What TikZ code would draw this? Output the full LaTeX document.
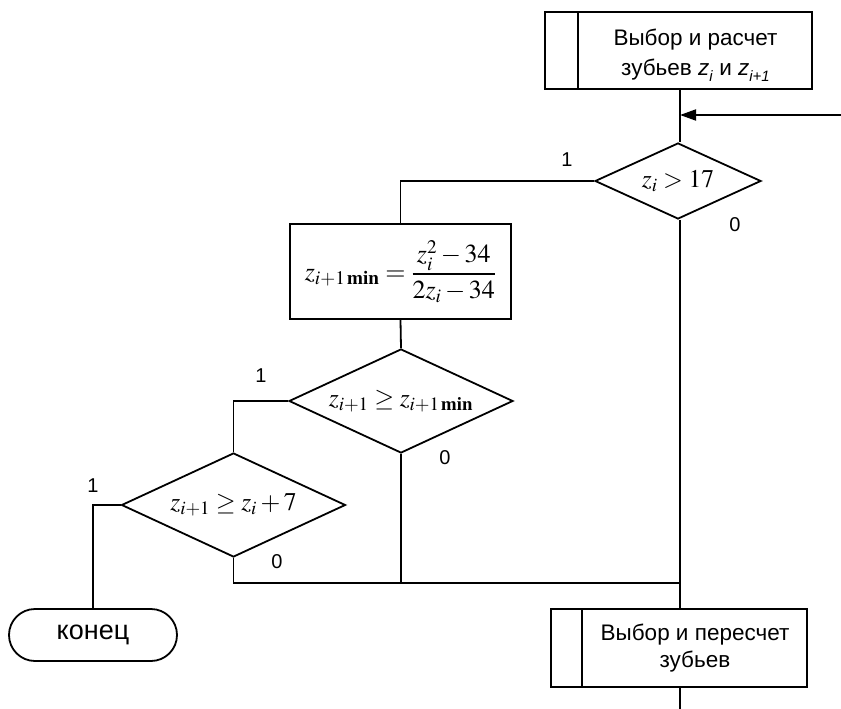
\documentclass[tikz,border=0pt]{standalone}
\usepackage{mathptmx}
\usepackage[no-math]{fontspec}
\setmainfont{Liberation Sans}
\usetikzlibrary{shapes.geometric,arrows.meta}

\newcommand{\zsub}[1]{\textit{z}\raisebox{-6pt}{\fontsize{15}{16}\selectfont\textit{#1}}}

\begin{document}
\begin{tikzpicture}[x=1pt,y=-1pt,line width=1.8pt,
  every node/.style={font=\fontsize{22.5}{27}\selectfont},
  box/.style={draw,rectangle,inner sep=0pt},
  cond/.style={draw,diamond,inner sep=0pt,aspect=2.15,
    minimum width=224pt,minimum height=104pt,font=\fontsize{25.5}{28}\selectfont},
  lbl/.style={inner sep=0pt,font=\fontsize{20}{22}\selectfont},
  txt/.style={inner sep=0pt,align=center}]
\useasboundingbox (0,0) rectangle (841,709);

% predefined process: compute z_i and z_{i+1}
\node[box,minimum width=267pt,minimum height=77pt] (start) at (678.5,50.5) {};
\draw ([xshift=34pt]start.north west) -- ([xshift=34pt]start.south west);
\node[txt,font=\fontsize{22.5}{30}\selectfont] (startT) at ([xshift=17pt,yshift=-5pt]start.center)
  {Выбор и расчет\\зубьев \zsub{i} и \zsub{i+1}};

% decisions and computation
\node[cond,minimum width=166pt,minimum height=76pt,aspect=2.18] (d1) at (678,181) {$z_i>17$};
\node[box,minimum width=221pt,minimum height=95pt,font=\fontsize{26}{30}\selectfont] (calc) at (400.5,271.5)
  {$\displaystyle z_{i+1\,\mathbf{min}}=\frac{z_i^2-34}{2z_i-34}$};
\node[cond] (d2) at (401,401) {$z_{i+1}\ge z_{i+1\,\mathbf{min}}$};
\node[cond] (d3) at (233.5,505) {$z_{i+1}\ge z_i+7$};

% terminator
\node[draw,rectangle,rounded corners=26pt,minimum width=168pt,minimum height=52pt,
  font=\fontsize{27}{30}\selectfont] (end) at (93,635) {конец};

% predefined process: recompute teeth
\node[box,minimum width=256pt,minimum height=78pt] (recalc) at (679,648) {};
\draw ([xshift=32pt]recalc.north west) -- ([xshift=32pt]recalc.south west);
\node[txt] (recalcT) at ([xshift=16pt]recalc.center) {Выбор и пересчет\\зубьев};

% connectors
\coordinate (in) at (841,115);
\coordinate (j) at (680,583);
\coordinate (out) at (680,709);
\draw (start.south -| j) -- (d1.north -| j);
\draw[-{Triangle[length=16pt,width=11pt]}] (in) -- (in -| j);
\draw (d1.west) -| (calc.north);
\draw (calc.south) -- (d2.north);
\draw (d2.west) -| (d3.north);
\draw (d3.west) -| (end.north);
\draw (d3.south) |- (j);
\draw (d2.south) -- (d2.south |- j);
\draw (d1.south -| j) -- (recalc.north -| j);
\draw (recalc.south -| out) -- (out);

% branch labels
\node[lbl] at (567,160) {1};
\node[lbl] at (735,225) {0};
\node[lbl] at (261,376) {1};
\node[lbl] at (445,458) {0};
\node[lbl] at (93,486) {1};
\node[lbl] at (277,562) {0};
\end{tikzpicture}
\end{document}
